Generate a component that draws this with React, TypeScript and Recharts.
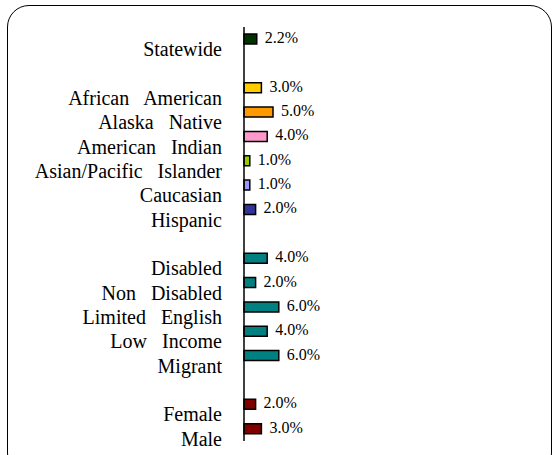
import React from "react";
import { BarChart, Bar, XAxis, YAxis, Cell, LabelList } from "recharts";

const categories = [
  "Statewide", "", "African American", "Alaska Native", "American Indian",
  "Asian/Pacific Islander", "Caucasian", "Hispanic", " ", "Disabled",
  "Non Disabled", "Limited English", "Low Income", "Migrant", "  ", "Female", "Male",
];
const values: (number | null)[] = [
  2.2, null, 3.0, 5.0, 4.0, 1.0, 1.0, 2.0, null, 4.0, 2.0, 6.0, 4.0, 6.0, null, 2.0, 3.0,
];
const colors = [
  "#003300", "#ffffff", "#FFCC00", "#FF9900", "#FF99CC", "#99CC00", "#9999FF", "#333399",
  "#ffffff", "#008080", "#008080", "#008080", "#008080", "#008080", "#ffffff", "#800000", "#800000",
];

const data = categories.map((c, i) => ({ name: c, value: values[i] }));

const FONT = "'Liberation Serif', 'Times New Roman', serif";

const Tick = (props: any) => {
  const { y, payload } = props;
  const label = String(payload.value).trim();
  if (!label) return null;
  return (
    <text x={222} y={y + 10} textAnchor="end" dominantBaseline="central"
      fontFamily={FONT} fontSize={20} wordSpacing={10} fill="#000">
      {label}
    </text>
  );
};

const ValueLabel = (props: any) => {
  const { x, y, width, height, value } = props;
  if (value === null || value === undefined) return null;
  return (
    <text x={x + width + 8} y={y + height / 2 - 1.5} dominantBaseline="central"
      fontFamily={FONT} fontSize={16} fill="#000">
      {`${Number(value).toFixed(1)}%`}
    </text>
  );
};

export default function App() {
  return (
    <div style={{ position: "absolute", left: 0, top: 0, width: 555, height: 455, background: "#fff", overflow: "hidden" }}>
      <div style={{
        position: "absolute", left: 7, top: 5, width: 545, height: 470,
        border: "1.5px solid #000", borderRadius: 22, boxSizing: "border-box",
      }} />
      <div style={{ position: "absolute", left: 0, top: 0 }}>
        <BarChart width={555} height={455} data={data} layout="vertical"
          margin={{ top: 27, right: 21, bottom: 14, left: 0 }} barCategoryGap={0}>
          <XAxis type="number" domain={[0, 50]} hide />
          <YAxis type="category" dataKey="name" width={244} tick={<Tick />}
            tickLine={false} axisLine={{ stroke: "#000", strokeWidth: 1.5 }} interval={0} />
          <Bar dataKey="value" barSize={10} stroke="#000" strokeWidth={1.5} isAnimationActive={false}>
            {data.map((_, i) => (
              <Cell key={i} fill={colors[i]} />
            ))}
            <LabelList dataKey="value" content={<ValueLabel />} />
          </Bar>
        </BarChart>
      </div>
    </div>
  );
}
